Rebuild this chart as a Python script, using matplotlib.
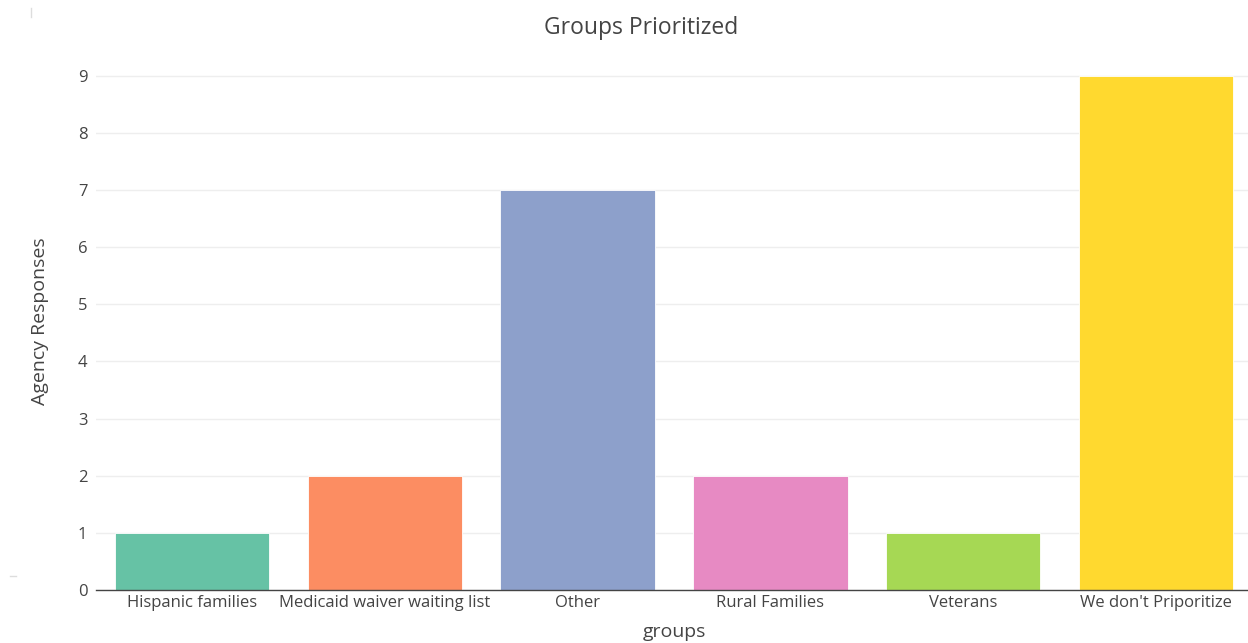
import matplotlib
matplotlib.use("Agg")
import matplotlib.pyplot as plt

categories = ["Hispanic families", "Medicaid waiver waiting list", "Other",
              "Rural Families", "Veterans", "We don't Priporitize"]
values = [1, 2, 7, 2, 1, 9]
colors = ["#66c2a5", "#fc8d62", "#8da0cb", "#e78ac3", "#a6d854", "#ffd92f"]
yticks = list(range(10))

plt.rcParams['font.family'] = ['Open Sans', 'DejaVu Sans']
W, H = 1248, 643
fig = plt.figure(figsize=(W/100, H/100), dpi=100)
left, right, bottom, top = 95.6, 1248, 590, 49
ax = fig.add_axes([left/W, (H-bottom)/H, (right-left)/W, (bottom-top)/H])

x = list(range(len(categories)))
ax.bar(x, values, width=0.8, color=colors, edgecolor="white", linewidth=0.6, zorder=3)
ax.set_xlim(-0.5, 5.5 - 4.4/192.8)
ax.set_ylim(0, 9.47)
ax.set_yticks(yticks)
ax.yaxis.grid(True, color="#eeeeee", linewidth=1, zorder=0)
ax.set_xticks(x)
ax.set_xticklabels(categories)
ax.tick_params(axis="both", length=0, labelsize=12, labelcolor="#444444")
ax.tick_params(axis="y", pad=6)
ax.tick_params(axis="x", pad=3.5)
for s in ["top", "right", "left"]:
    ax.spines[s].set_visible(False)
ax.spines["bottom"].set_color("#444444")
ax.spines["bottom"].set_linewidth(1)
ax.spines["bottom"].set_zorder(4)

fig.text(641/W, 1-28/H, "Groups Prioritized", ha="center", va="center", fontsize=16.5, color="#444444")
fig.text(674/W, 1-632/H, "groups", ha="center", va="center", fontsize=14, color="#444444")
fig.text(40/W, 1-321/H, "Agency Responses", ha="center", va="center", rotation=90, fontsize=14, color="#444444")

# faint artifacts
fig.add_artist(plt.Line2D([31/W, 31/W], [1-8/H, 1-17/H], color="#dddddd", linewidth=1))
fig.add_artist(plt.Line2D([10/W, 16/W], [1-576/H, 1-576/H], color="#dddddd", linewidth=1))

fig.savefig("out.png", dpi=100)
